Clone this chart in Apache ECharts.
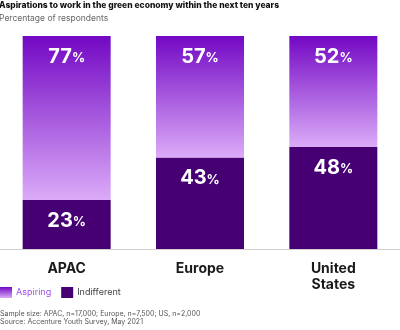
<!DOCTYPE html>
<html>
<head>
<meta charset="utf-8">
<script src="https://cdn.jsdelivr.net/npm/echarts@6/dist/echarts.min.js"></script>
<style>
  html, body { margin: 0; padding: 0; background: #fff; }
  #chart { width: 400px; height: 330px; }
</style>
</head>
<body>
<div id="chart"></div>
<script>
// Regions surveyed
const regions = ['APAC', 'Europe', 'United\nStates'];
// Share of respondents (%)
const aspiring = [77, 57, 52];
const indifferent = [23, 43, 48];

const titleText = 'Aspirations to work in the green economy within the next ten years';
const subtitleText = 'Percentage of respondents';
const noteSample = 'Sample size: APAC, n=17,000; Europe, n=7,500; US, n=2,000';
const noteSource = 'Source: Accenture Youth Survey, May 2021';

const FONT = 'Inter, Roboto, "DejaVu Sans", sans-serif';

const aspiringFill = new echarts.graphic.LinearGradient(0, 0, 0, 1, [
  { offset: 0, color: '#7308c4' },
  { offset: 1, color: '#dbabf8' }
]);
const indifferentFill = '#460073';

const pctLabel = {
  show: true,
  position: 'insideTop',
  distance: 11,
  formatter: p => '{n|' + p.value + '}{p|%}',
  rich: {
    n: { fontFamily: FONT, fontSize: 20, fontWeight: 'bold', color: '#fff' },
    p: { fontFamily: FONT, fontSize: 13, fontWeight: 'bold', color: '#fff', padding: [3, 0, 0, 0] }
  }
};

const chart = echarts.init(document.getElementById('chart'), null, { renderer: 'canvas' });
chart.setOption({
  animation: false,
  textStyle: { fontFamily: FONT },
  title: {
    text: titleText,
    subtext: subtitleText,
    left: -1,
    top: 1,
    padding: 0,
    itemGap: 4,
    textStyle: { fontFamily: FONT, fontSize: 8.5, fontWeight: 800, color: '#111' },
    subtextStyle: { fontFamily: FONT, fontSize: 8.5, color: '#666' }
  },
  grid: { left: 0, right: 0, top: 36, bottom: 81, containLabel: false },
  legend: {
    left: 0,
    top: 287,
    padding: 0,
    itemWidth: 12,
    itemHeight: 11,
    itemGap: 10,
    icon: 'rect',
    data: [
      { name: 'Aspiring', textStyle: { color: '#a04ee8' } },
      { name: 'Indifferent', textStyle: { color: '#444' } }
    ],
    textStyle: { fontFamily: FONT, fontSize: 9, padding: [0, 0, 0, -1] }
  },
  xAxis: {
    type: 'category',
    data: regions,
    axisLine: { show: true, lineStyle: { color: '#d0d0d0', width: 1 } },
    axisTick: { show: false },
    axisLabel: {
      margin: 12,
      fontFamily: FONT,
      fontSize: 14,
      fontWeight: 'bold',
      color: '#1a1a1a',
      lineHeight: 16
    }
  },
  yAxis: { type: 'value', min: 0, max: 100, show: false },
  series: [
    {
      name: 'Indifferent',
      type: 'bar',
      stack: 'share',
      barWidth: '66%',
      data: indifferent,
      itemStyle: { color: indifferentFill },
      label: pctLabel
    },
    {
      name: 'Aspiring',
      type: 'bar',
      stack: 'share',
      barWidth: '66%',
      data: aspiring,
      itemStyle: { color: aspiringFill },
      label: pctLabel
    }
  ],
  graphic: [
    { type: 'text', left: 0, top: 310, style: { text: noteSample, font: '7px ' + FONT, fill: '#555' } },
    { type: 'text', left: 0, top: 318.5, style: { text: noteSource, font: '7px ' + FONT, fill: '#555' } }
  ]
});
</script>
</body>
</html>
